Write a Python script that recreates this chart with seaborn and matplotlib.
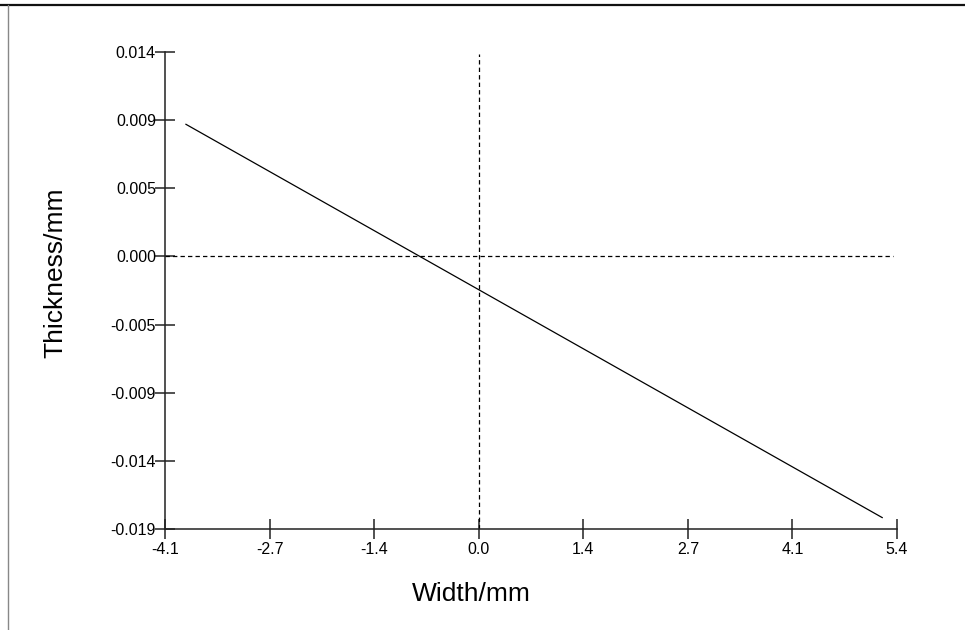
import matplotlib
matplotlib.use("Agg")
import matplotlib.pyplot as plt
from matplotlib.lines import Line2D
import numpy as np
import pandas as pd
import seaborn as sns

# Profile endpoints (width in mm, thickness deviation in mm)
width_mm = [-3.81, 5.25]
thickness_mm = [0.00912, -0.01802]

# Axis ticks
x_ticks = [-4.08, -2.72, -1.36, 0.0, 1.36, 2.72, 4.08, 5.44]
x_tick_labels = ["-4.1", "-2.7", "-1.4", "0.0", "1.4", "2.7", "4.1", "5.4"]
y_ticks = [-0.0188, -0.0141, -0.0094, -0.0047, 0.0, 0.0047, 0.0094, 0.0141]
y_tick_labels = ["-0.019", "-0.014", "-0.009", "-0.005", "0.000", "0.005", "0.009", "0.014"]

sns.set_theme(style="white")
plt.rcParams["font.family"] = ["Liberation Sans", "DejaVu Sans"]

W, H, DPI = 965, 630, 100
fig = plt.figure(figsize=(W / DPI, H / DPI), dpi=DPI)
fig.patch.set_facecolor("white")

# axes box in pixel coordinates
left_px, right_px, top_px, bottom_px = 165, 897, 52, 529
ax = fig.add_axes([left_px / W, 1 - bottom_px / H,
                   (right_px - left_px) / W, (bottom_px - top_px) / H])

df = pd.DataFrame({"Width/mm": width_mm, "Thickness/mm": thickness_mm})
sns.lineplot(data=df, x="Width/mm", y="Thickness/mm", ax=ax,
             color="black", linewidth=0.9)

# zero reference lines
ax.axhline(0.0, xmin=0, xmax=0.995, color="black", linewidth=0.9,
           dashes=(3.5, 2.5))
ax.axvline(0.0, ymin=0, ymax=0.996, color="black", linewidth=0.9,
           dashes=(3.5, 2.5))

ax.set_xlim(x_ticks[0], x_ticks[-1])
ax.set_ylim(y_ticks[0], y_ticks[-1])
ax.set_xticks(x_ticks)
ax.set_xticklabels(x_tick_labels)
ax.set_yticks(y_ticks)
ax.set_yticklabels(y_tick_labels)

for side in ("top", "right"):
    ax.spines[side].set_visible(False)
for side in ("left", "bottom"):
    ax.spines[side].set_color("#222222")
    ax.spines[side].set_linewidth(1.1)

ax.tick_params(axis="both", which="major", direction="inout", length=15,
               width=1.1, color="#222222", labelsize=11.5, labelcolor="black",
               bottom=True, left=True, top=False, right=False)
ax.tick_params(axis="x", pad=2)
ax.tick_params(axis="y", pad=-1)
ax.grid(False)

ax.set_xlabel("Width/mm", fontsize=19, color="black")
ax.set_ylabel("Thickness/mm", fontsize=19, color="black")
ax.xaxis.set_label_coords(0.419, -0.136)
ax.xaxis.label.set_va("center")
ax.yaxis.set_label_coords(-0.150, 0.537)
ax.yaxis.label.set_va("center")

# window frame edges
fig.add_artist(Line2D([0, 1], [1 - 5 / H, 1 - 5 / H], transform=fig.transFigure,
                      color="#111111", linewidth=1.6))
fig.add_artist(Line2D([8 / W, 8 / W], [0, 1 - 5 / H], transform=fig.transFigure,
                      color="#888888", linewidth=1.0))

fig.savefig("out.png", dpi=DPI, facecolor="white")
